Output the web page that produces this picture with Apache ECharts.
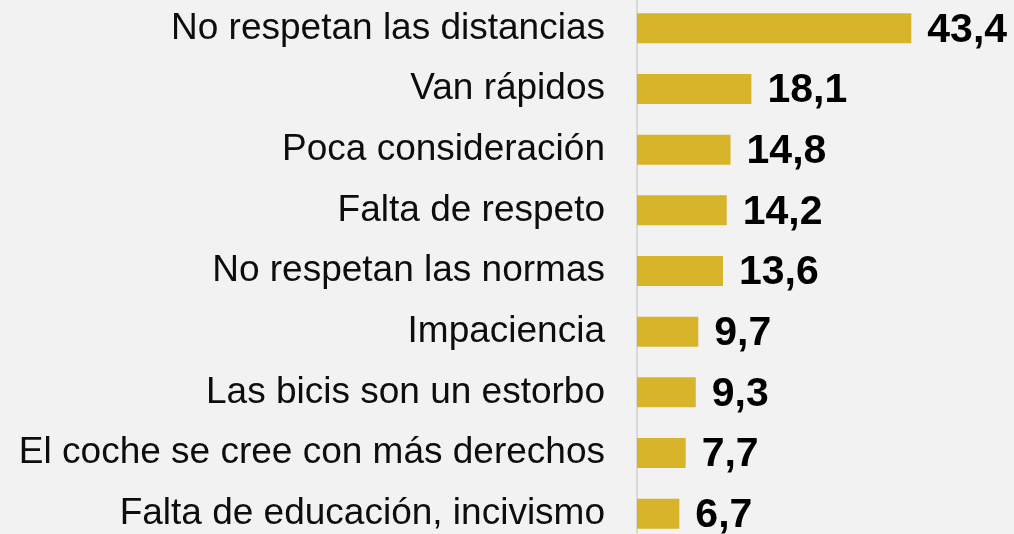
<!DOCTYPE html>
<html>
<head>
<meta charset="utf-8">
<script src="https://cdn.jsdelivr.net/npm/echarts@6/dist/echarts.min.js"></script>
<style>
  html, body { margin: 0; padding: 0; background: #f2f2f2; overflow: hidden; }
  /* la ultima fila queda cortada abajo, como en el original */
  #chart { width: 1014px; height: 546px; margin-top: -2px; }
</style>
</head>
<body>
<div id="chart"></div>
<script>
// categorias de arriba a abajo
const categories = [
    'No respetan las distancias',
    'Van rápidos',
    'Poca consideración',
    'Falta de respeto',
    'No respetan las normas',
    'Impaciencia',
    'Las bicis son un estorbo',
    'El coche se cree con más derechos',
    'Falta de educación, incivismo'
];
const values = [43.4, 18.1, 14.8, 14.2, 13.6, 9.7, 9.3, 7.7, 6.7];

const chart = echarts.init(document.getElementById('chart'));
chart.setOption({
    backgroundColor: '#f2f2f2',
    animation: false,
    grid: {
        left: 637,
        right: 61,
        top: 0,
        bottom: 0,
        containLabel: false
    },
    xAxis: {
        type: 'value',
        min: 0,
        max: 50,
        show: false
    },
    yAxis: {
        type: 'category',
        inverse: true,
        data: categories,
        axisTick: { show: false },
        axisLine: {
            show: true,
            lineStyle: { color: '#d9d9d9', width: 2 }
        },
        axisLabel: {
            color: '#0d0d0d',
            fontFamily: 'Liberation Sans, Arial, sans-serif',
            fontSize: 37,
            margin: 32,
            padding: [4, 0, 0, 0]
        }
    },
    series: [{
        type: 'bar',
        data: values,
        barWidth: 30,
        itemStyle: { color: '#d7b42a' },
        label: {
            show: true,
            position: 'right',
            distance: 16,
            offset: [0, 2],
            color: '#000',
            fontFamily: 'Liberation Sans, Arial, sans-serif',
            fontWeight: 'bold',
            fontSize: 41,
            formatter: p => p.value.toFixed(1).replace('.', ',')
        }
    }]
});
</script>
</body>
</html>
